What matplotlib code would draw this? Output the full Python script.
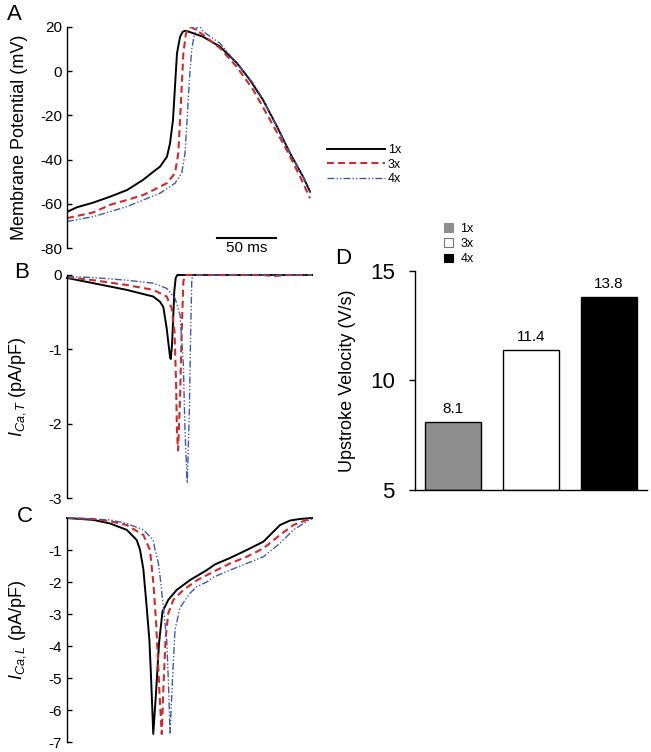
"""Calcium current traces (A-C) and upstroke velocity bars (D)."""
import matplotlib
matplotlib.use("Agg")
import matplotlib.pyplot as plt
from matplotlib.patches import Patch
from matplotlib.lines import Line2D

plt.rcParams["font.family"] = ["Liberation Sans", "DejaVu Sans"]
plt.rcParams["axes.unicode_minus"] = False
plt.rcParams["lines.scale_dashes"] = False
plt.rcParams["mathtext.fontset"] = "custom"
plt.rcParams["mathtext.rm"] = "Liberation Sans"
plt.rcParams["mathtext.it"] = "Liberation Sans:italic"

# ---- data, time in ms ----
series_labels = ["1x", "3x", "4x"]

# A: membrane potential (mV)
t_a_1x = [0, 8.2, 22.0, 36.4, 50.8, 64.4, 73.1, 78.8, 84.7, 87.3, 89.8, 91.5, 93.2, 95.8, 98.0,
          100.0, 102.5, 115.3, 129.7, 144.1, 155.1, 166.1, 178.0, 189.0, 200.0, 205.9]
v_a_1x = [-63.7, -61.6, -59.5, -56.8, -53.8, -49.2, -45.5, -43.2, -38.7, -32.6, -22.1, -7.0, 8.1, 15.6, 17.8,
          18.3, 18.0, 15.6, 11.1, 3.6, -4.0, -13.0, -25.1, -37.1, -47.7, -54.5]
t_a_3x = [0, 22.3, 36.4, 50.6, 64.7, 73.1, 84.5, 91.5, 94.3, 95.8, 97.2, 98.6, 100.8, 103.0,
          105.5, 115.5, 129.7, 143.8, 157.9, 172.1, 186.2, 197.5, 205.9]
v_a_3x = [-66.5, -63.9, -60.5, -58.3, -56.0, -53.8, -50.7, -46.2, -37.1, -22.1, -7.0, 8.1, 17.1, 19.5,
          20.0, 16.4, 10.4, 2.0, -8.5, -22.1, -35.7, -47.7, -57.5]
t_a_4x = [0, 22.3, 50.6, 78.8, 91.5, 97.2, 100.0, 101.4, 102.8, 104.2, 105.7, 107.9, 109.9, 111.9,
          115.5, 129.7, 143.8, 157.9, 166.4, 177.7, 189.0, 200.0, 205.9]
v_a_4x = [-68.0, -65.8, -61.3, -55.2, -50.7, -46.2, -37.1, -25.0, -12.0, 0.0, 10.0, 16.5, 19.5, 21.0,
          17.9, 12.6, 3.6, -5.5, -13.0, -25.1, -37.1, -47.7, -54.5]

# B: T-type calcium current (pA/pF)
t_b_1x = [0, 22.3, 50.6, 73.1, 78.8, 81.6, 84.5, 85.8, 87.3, 87.9, 89.0, 90.1, 90.9, 92.1, 93.5, 207.6]
i_b_1x = [-0.04, -0.11, -0.20, -0.29, -0.36, -0.43, -0.72, -0.90, -1.10, -1.13, -0.94, -0.54, -0.22, -0.04, 0.0, 0.0]
t_b_3x = [0, 22.3, 50.6, 73.1, 84.5, 88.7, 91.1, 92.4, 93.2, 94.1, 95.8, 97.2, 98.6, 100.0,
          166.1, 174.8, 186.2, 207.6]
i_b_3x = [-0.03, -0.07, -0.135, -0.20, -0.29, -0.45, -0.76, -1.44, -2.11, -2.36, -1.66, -0.76, -0.09, 0.0,
          0.0, -0.015, 0.0, 0.0]
t_b_4x = [0, 22.3, 50.6, 73.1, 84.5, 91.5, 95.8, 98.6, 100.0, 101.9, 103.6, 104.8, 105.7, 106.5, 207.6]
i_b_4x = [-0.02, -0.035, -0.07, -0.11, -0.18, -0.31, -0.54, -1.21, -2.11, -2.80, -1.88, -0.76, -0.09, 0.0, 0.0]

# C: L-type calcium current (pA/pF)
t_c_1x = [0, 22.3, 36.4, 50.6, 59.1, 61.9, 64.7, 67.5, 69.8, 71.2, 73.1, 75.4, 78.0, 80.9, 85.8,
          92.9, 104.2, 118.4, 125.4, 138.1, 152.3, 166.4, 174.8, 180.5, 189.0, 197.5, 207.6]
i_c_1x = [0.0, -0.06, -0.17, -0.37, -0.69, -1.0, -1.6, -2.77, -3.81, -4.96, -6.75, -5.48, -3.9, -2.93, -2.56,
          -2.25, -1.94, -1.63, -1.45, -1.25, -1.0, -0.74, -0.43, -0.22, -0.08, -0.03, 0.0]
t_c_3x = [0, 22.3, 36.4, 50.6, 64.7, 70.3, 73.1, 75.4, 77.0, 78.4, 80.3, 81.8, 83.5, 85.8, 90.1,
          98.6, 109.9, 124.0, 138.1, 152.3, 166.4, 180.5, 191.8, 203.1, 207.6]
i_c_3x = [0.0, -0.03, -0.10, -0.22, -0.53, -1.0, -2.0, -3.2, -4.4, -5.5, -6.75, -5.2, -3.8, -2.98, -2.56,
          -2.25, -1.95, -1.68, -1.42, -1.21, -0.95, -0.53, -0.22, -0.06, -0.02]
t_c_4x = [0, 36.4, 50.6, 64.7, 73.1, 74.6, 77.4, 79.2, 81.6, 84.5, 86.0, 87.3, 89.5, 91.5, 95.8,
          104.2, 109.9, 118.4, 124.0, 138.1, 152.3, 166.4, 180.5, 191.8, 203.1, 207.6]
i_c_4x = [0.0, -0.06, -0.17, -0.37, -0.69, -1.0, -1.4, -1.94, -2.77, -3.81, -5.2, -6.75, -4.96, -3.5, -2.8,
          -2.35, -2.15, -2.0, -1.85, -1.63, -1.42, -1.21, -0.79, -0.37, -0.11, -0.03]

# D: upstroke velocity (V/s)
velocity = [8.1, 11.4, 13.8]
bar_colors = ["#8e8e8e", "white", "black"]

scale_bar_ms = 50
scale_bar_start = 127

# ---- styles ----
styles = [
    dict(color="black", lw=1.4, linestyle="-"),
    dict(color="#cc2b2b", lw=1.5, linestyle=(0, (5, 3))),
    dict(color="#4457a8", lw=1.0, linestyle=(0, (5, 1.5, 1, 1.5, 1, 1.5))),
]

W, H = 651, 752
fig = plt.figure(figsize=(W / 100, H / 100), dpi=100)


def px_axes(left, top, right, bottom):
    return fig.add_axes([left / W, 1 - bottom / H, (right - left) / W, (bottom - top) / H])


def trace_axes(ax, ylim, yticks, ylabel):
    for s in ["top", "right", "bottom"]:
        ax.spines[s].set_visible(False)
    ax.spines["left"].set_linewidth(1.0)
    ax.set_xlim(0, 207.6)
    ax.set_ylim(*ylim)
    ax.set_xticks([])
    ax.set_yticks(yticks)
    ax.tick_params(axis="y", direction="in", length=3.5, width=1.0, pad=3.5, labelsize=11)
    ax.set_ylabel(ylabel, fontsize=13)
    ax.yaxis.set_label_coords(-0.158, 0.5)
    ax.patch.set_visible(False)


ax_a = px_axes(67, 27, 312, 248)
ax_b = px_axes(67, 275, 312, 498)
ax_c = px_axes(67, 518, 312, 742)
ax_d = px_axes(415, 271, 647, 490)

for t, v, st in zip([t_a_1x, t_a_3x, t_a_4x], [v_a_1x, v_a_3x, v_a_4x], styles):
    ax_a.plot(t, v, **st)
for t, v, st in zip([t_b_1x, t_b_3x, t_b_4x], [i_b_1x, i_b_3x, i_b_4x], styles):
    ax_b.plot(t, v, clip_on=False, **st)
for t, v, st in zip([t_c_1x, t_c_3x, t_c_4x], [i_c_1x, i_c_3x, i_c_4x], styles):
    ax_c.plot(t, v, clip_on=False, **st)

trace_axes(ax_a, (-80, 20), [20, 0, -20, -40, -60, -80], "Membrane Potential (mV)")
trace_axes(ax_b, (-3, 0), [0, -1, -2, -3], r"$I_{Ca,T}$ (pA/pF)")
trace_axes(ax_c, (-7, 0), [-1, -2, -3, -4, -5, -6, -7], r"$I_{Ca,L}$ (pA/pF)")

# scale bar
ax_a.plot([scale_bar_start, scale_bar_start + scale_bar_ms], [-75.5, -75.5], color="black", lw=1.5)
ax_a.text(scale_bar_start + scale_bar_ms / 2, -80, f"{scale_bar_ms} ms", ha="center", va="center",
          fontsize=11, clip_on=False)

# legend for traces
handles = [Line2D([], [], **st) for st in styles]
fig.legend(handles, series_labels, loc="upper left", bbox_to_anchor=(327 / W, 1 - 144 / H),
           frameon=False, fontsize=9, handlelength=4.6, handletextpad=0.25, labelspacing=0.2,
           borderpad=0, borderaxespad=0)

# D: bar chart
x = range(len(velocity))
bars = ax_d.bar(x, [v - 5 for v in velocity], bottom=5, width=0.72, color=bar_colors,
                edgecolor="black", linewidth=1.0)
for xi, v in zip(x, velocity):
    ax_d.annotate(f"{v}", (xi, v), xytext=(0, 9.5), textcoords="offset points",
                  ha="center", va="center", fontsize=11)
ax_d.set_xlim(-0.49, 2.49)
ax_d.set_ylim(5, 15)
ax_d.set_yticks([5, 10, 15])
ax_d.set_xticks([])
for s in ["top", "right"]:
    ax_d.spines[s].set_visible(False)
for s in ["left", "bottom"]:
    ax_d.spines[s].set_linewidth(1.0)
ax_d.tick_params(axis="y", direction="out", length=4.5, width=1.0, pad=10, labelsize=16)
ax_d.set_ylabel("Upstroke Velocity (V/s)", fontsize=13)
ax_d.yaxis.set_label_coords(-0.254, 0.5)

bar_handles = [Patch(facecolor=c, edgecolor="#777777" if c == "white" else c, linewidth=0.8)
               for c in bar_colors]
fig.legend(bar_handles, series_labels, loc="upper left", bbox_to_anchor=(444 / W, 1 - 223 / H),
           frameon=False, fontsize=9, handlelength=0.7, handleheight=0.7, handletextpad=0.6,
           labelspacing=0.25, borderpad=0, borderaxespad=0)

# panel letters
for letter, (px, py) in zip("ABCD", [(14, 14), (22, 272), (25, 517), (343, 259)]):
    fig.text(px / W, 1 - py / H, letter, ha="center", va="center", fontsize=16)

fig.savefig("out.png", dpi=100)
